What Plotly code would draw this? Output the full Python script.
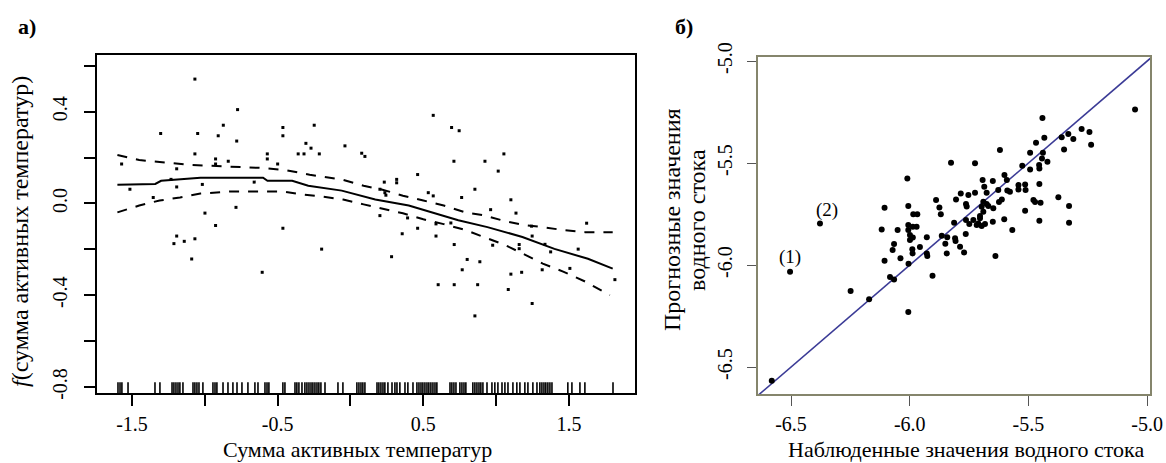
import plotly.graph_objects as go

# ---------------- Panel a) : GAM partial effect ----------------
res_x = [-1.571, -1.514, -1.354, -1.303, -1.232, -1.193, -1.193, -1.193, -1.212, -1.141,
         -1.068, -1.090, -1.068, -1.068, -1.049, -1.017, -0.999, -0.926, -0.926, -0.926,
         -0.908, -0.873, -0.839, -0.786, -0.781, -0.775, -0.661, -0.606, -0.571, -0.571,
         -0.500, -0.464, -0.464, -0.464, -0.359, -0.319, -0.306, -0.271, -0.249, -0.214,
         -0.198, -0.038, 0.077, 0.099, 0.202, 0.202, 0.232, 0.243, 0.282, 0.317,
         0.317, 0.355, 0.392, 0.461, 0.461, 0.534, 0.568, 0.568, 0.587, 0.587,
         0.602, 0.694, 0.689, 0.710, 0.712, 0.712, 0.746, 0.763, 0.767, 0.801,
         0.854, 0.854, 0.873, 0.888, 0.923, 0.962, 0.976, 1.014, 1.053, 1.083,
         1.101, 1.101, 1.136, 1.158, 1.158, 1.175, 1.243, 1.247, 1.247, 1.316,
         1.335, 1.374, 1.506, 1.563, 1.621, 1.815, 0.236]
res_y = [0.172, 0.062, 0.026, 0.305, 0.105, 0.151, 0.072, -0.142, -0.175, -0.165,
         -0.154, -0.242, 0.542, 0.216, 0.305, 0.083, -0.042, 0.194, 0.172, -0.096,
         0.295, 0.341, 0.184, -0.017, 0.272, 0.409, 0.093, -0.300, 0.216, 0.194,
         0.172, 0.331, 0.295, -0.108, 0.216, 0.216, 0.262, 0.241, 0.341, 0.216,
         -0.199, 0.251, 0.219, 0.205, 0.062, -0.053, 0.093, 0.036, -0.232, 0.105,
         0.090, -0.132, -0.063, 0.126, -0.108, 0.047, 0.384, 0.033, -0.089, -0.142,
         -0.354, 0.331, -0.085, 0.184, -0.179, -0.354, 0.317, 0.026, -0.289, -0.244,
         0.062, -0.490, -0.354, -0.254, 0.184, -0.027, -0.182, 0.141, 0.216, -0.375,
         0.016, -0.308, -0.042, -0.179, -0.197, -0.300, -0.099, -0.142, -0.436, -0.289,
         -0.178, -0.211, -0.283, -0.199, -0.086, -0.332, 0.047]

fit_x = [-1.60, -1.34, -1.30, -1.03, -0.60, -0.57, -0.40, -0.29, -0.06, 0.17,
         0.40, 0.63, 0.74, 0.94, 1.18, 1.40, 1.63, 1.80]
fit_y = [0.082, 0.085, 0.099, 0.112, 0.112, 0.099, 0.099, 0.077, 0.056, 0.017,
         -0.009, -0.052, -0.073, -0.103, -0.146, -0.198, -0.241, -0.284]

upper_x = [-1.60, -1.45, -1.10, -0.62, -0.45, -0.28, -0.05, 0.09, 0.22, 0.36,
           0.50, 0.64, 0.79, 0.92, 1.06, 1.20, 1.32, 1.46, 1.61, 1.80]
upper_y = [0.211, 0.189, 0.168, 0.155, 0.146, 0.125, 0.103, 0.077, 0.060, 0.034,
           0.013, -0.009, -0.039, -0.052, -0.077, -0.095, -0.103, -0.116, -0.125, -0.125]

lower_x = [-1.60, -1.45, -1.31, -1.17, -1.03, -0.83, -0.46, -0.33, -0.19, -0.05,
           0.09, 0.22, 0.36, 0.50, 0.64, 0.79, 0.92, 1.06, 1.20, 1.32,
           1.46, 1.61, 1.78]
lower_y = [-0.039, -0.009, 0.013, 0.026, 0.043, 0.052, 0.052, 0.039, 0.030, 0.017,
           -0.004, -0.022, -0.043, -0.069, -0.090, -0.116, -0.146, -0.181, -0.224, -0.262,
           -0.297, -0.340, -0.400]

rug_x = [-1.596, -1.582, -1.569, -1.527, -1.342, -1.308, -1.225, -1.212, -1.198, -1.184,
         -1.171, -1.150, -1.081, -1.068, -1.054, -1.040, -1.013, -0.944, -0.930, -0.917,
         -0.875, -0.841, -0.807, -0.779, -0.745, -0.704, -0.656, -0.635, -0.587, -0.573,
         -0.560, -0.464, -0.450, -0.381, -0.368, -0.354, -0.333, -0.313, -0.299, -0.285,
         -0.271, -0.258, -0.244, -0.230, -0.217, -0.203, -0.175, -0.086, -0.052, 0.044,
         0.058, 0.072, 0.085, 0.099, 0.182, 0.195, 0.209, 0.223, 0.236, 0.257,
         0.285, 0.305, 0.319, 0.339, 0.374, 0.394, 0.429, 0.456, 0.470, 0.484,
         0.497, 0.511, 0.525, 0.538, 0.552, 0.566, 0.580, 0.593, 0.683, 0.696,
         0.710, 0.724, 0.751, 0.765, 0.779, 0.792, 0.840, 0.854, 0.868, 0.882,
         0.895, 0.909, 0.937, 0.971, 0.991, 1.012, 1.040, 1.060, 1.081, 1.115,
         1.142, 1.163, 1.197, 1.218, 1.252, 1.280, 1.300, 1.314, 1.328, 1.341,
         1.355, 1.369, 1.383, 1.492, 1.520, 1.575, 1.609, 1.802]

a_xticks = [-1.5, -1.0, -0.5, 0.0, 0.5, 1.0, 1.5]
a_xticklabels = ["-1.5", "", "-0.5", "", "0.5", "", "1.5"]
a_yticks = [-0.8, -0.6, -0.4, -0.2, 0.0, 0.2, 0.4, 0.6]
a_yticklabels = ["-0.8", "", "-0.4", "", "0.0", "", "0.4", ""]
a_xrange = [-1.74, 1.953]
a_yrange = [-0.826, 0.647]

# ---------------- Panel б) : observed vs predicted ----------------
obs_x = [-5.051, -5.441, -5.276, -5.243, -5.332, -5.360, -5.311, -5.433, -5.236, -5.468,
         -5.350, -5.620, -5.493, -5.439, -5.443, -5.420, -5.826, -5.725, -5.526, -5.455,
         -5.493, -5.454, -5.601, -6.010, -5.693, -5.650, -5.591, -5.454, -5.542, -5.514,
         -5.686, -5.589, -5.627, -5.542, -5.512, -5.676, -5.785, -5.725, -5.753, -5.805,
         -5.889, -5.374, -5.612, -5.624, -5.479, -5.472, -5.449, -5.763, -5.760, -5.690,
         -5.676, -5.697, -5.669, -5.648, -5.329, -6.006, -6.106, -5.875, -5.985, -5.968,
         -5.869, -5.690, -5.704, -5.514, -5.602, -5.454, -5.329, -5.813, -5.763, -5.732,
         -5.749, -5.704, -5.711, -5.697, -5.683, -5.650, -6.006, -5.987, -5.971, -6.118,
         -6.051, -5.568, -6.378, -5.764, -5.999, -5.987, -5.928, -5.842, -5.809, -6.504,
         -6.249, -6.171, -6.006, -6.581, -6.006, -5.999, -6.066, -6.072, -6.106, -6.039,
         -5.989, -5.988, -5.957, -5.928, -5.926, -6.083, -6.066, -6.005, -5.904, -5.865,
         -5.807, -5.850, -5.844, -5.788, -5.771, -5.639, -5.718, -5.578]
pred_y = [-5.237, -5.279, -5.333, -5.348, -5.358, -5.373, -5.382, -5.376, -5.410, -5.400,
          -5.433, -5.436, -5.449, -5.449, -5.477, -5.493, -5.498, -5.501, -5.513, -5.510,
          -5.531, -5.526, -5.559, -5.575, -5.583, -5.588, -5.583, -5.603, -5.608, -5.605,
          -5.616, -5.635, -5.632, -5.630, -5.632, -5.646, -5.649, -5.646, -5.657, -5.678,
          -5.681, -5.667, -5.679, -5.691, -5.681, -5.691, -5.695, -5.701, -5.713, -5.690,
          -5.701, -5.714, -5.711, -5.722, -5.711, -5.711, -5.719, -5.718, -5.751, -5.751,
          -5.751, -5.739, -5.760, -5.734, -5.775, -5.783, -5.792, -5.793, -5.779, -5.779,
          -5.799, -5.771, -5.796, -5.809, -5.799, -5.788, -5.804, -5.812, -5.812, -5.825,
          -5.828, -5.828, -5.796, -5.848, -5.853, -5.865, -5.864, -5.864, -5.869, -6.033,
          -6.127, -6.167, -6.230, -6.567, -5.828, -5.877, -5.897, -5.926, -5.979, -5.966,
          -5.923, -5.943, -5.912, -5.943, -5.956, -6.059, -6.071, -5.993, -6.052, -5.856,
          -5.882, -5.895, -5.943, -5.910, -5.938, -5.956, -5.804, -5.641]

identity_line = [-6.64, -4.98]
outlier_labels = ["(1)", "(2)"]
outlier_label_x = [-6.503, -6.350]
outlier_label_y = [-5.959, -5.730]

b_ticks = [-6.5, -6.0, -5.5, -5.0]
b_ticklabels = ["-6.5", "-6.0", "-5.5", "-5.0"]
b_xrange = [-6.639, -4.988]
b_yrange = [-6.632, -4.980]

# ---------------- Figure ----------------
W, H = 1166, 463
FONT = "Liberation Serif, Times New Roman, serif"

fig = go.Figure()

fig.add_trace(go.Scatter(x=res_x, y=res_y, mode="markers",
                         marker=dict(size=3, color="black", symbol="square"),
                         xaxis="x", yaxis="y", showlegend=False))
fig.add_trace(go.Scatter(x=upper_x, y=upper_y, mode="lines",
                         line=dict(color="black", width=2, dash="10px,9px"),
                         xaxis="x", yaxis="y", showlegend=False))
fig.add_trace(go.Scatter(x=lower_x, y=lower_y, mode="lines",
                         line=dict(color="black", width=2, dash="10px,9px"),
                         xaxis="x", yaxis="y", showlegend=False))
fig.add_trace(go.Scatter(x=fit_x, y=fit_y, mode="lines",
                         line=dict(color="black", width=2),
                         xaxis="x", yaxis="y", showlegend=False))
# rug along the bottom of panel a
rug_len_px = 9
rug_y = a_yrange[0] + (rug_len_px / 2) / 338 * (a_yrange[1] - a_yrange[0])
fig.add_trace(go.Scatter(x=rug_x, y=[rug_y] * len(rug_x), mode="markers",
                         marker=dict(symbol="line-ns", size=rug_len_px,
                                     line=dict(width=1.6, color="black")),
                         xaxis="x", yaxis="y", showlegend=False))

fig.add_trace(go.Scatter(x=identity_line, y=identity_line, mode="lines",
                         line=dict(color="#3b3b96", width=1.6),
                         xaxis="x2", yaxis="y2", showlegend=False))
fig.add_trace(go.Scatter(x=obs_x, y=pred_y, mode="markers",
                         marker=dict(size=6, color="black"),
                         xaxis="x2", yaxis="y2", showlegend=False))

common = dict(showgrid=False, zeroline=False, showline=True, mirror=True,
              automargin=False, ticks="outside",
              tickfont=dict(family=FONT, size=20, color="black"))

fig.update_layout(
    template="none",
    width=W, height=H,
    margin=dict(l=0, r=0, t=0, b=0, pad=0),
    paper_bgcolor="white", plot_bgcolor="white",
    font=dict(family=FONT, color="black"),
    xaxis=dict(domain=[97 / W, 635 / W], range=a_xrange, anchor="y",
               tickvals=a_xticks, ticktext=a_xticklabels,
               linecolor="black", linewidth=2, ticklen=11, tickwidth=1.6,
               tickcolor="black", ticklabelstandoff=1, **common),
    yaxis=dict(domain=[(H - 393) / H, (H - 55) / H], range=a_yrange, anchor="x",
               tickvals=a_yticks, ticktext=a_yticklabels, tickangle=-90,
               linecolor="black", linewidth=2, ticklen=11, tickwidth=1.6,
               tickcolor="black", ticklabelstandoff=9, **common),
    xaxis2=dict(domain=[758 / W, 1150 / W], range=b_xrange, anchor="y2",
                tickvals=b_ticks, ticktext=b_ticklabels,
                linecolor="#85856c", linewidth=1.5, ticklen=10, tickwidth=1.3,
                tickcolor="#555555", ticklabelstandoff=1, **common),
    yaxis2=dict(domain=[(H - 394) / H, (H - 57) / H], range=b_yrange, anchor="x2",
                tickvals=b_ticks, ticktext=b_ticklabels, tickangle=-90,
                linecolor="#85856c", linewidth=1.5, ticklen=9, tickwidth=1.3,
                tickcolor="#555555", ticklabelstandoff=7, **common),
)


def label(text, px, py, size, angle=0):
    return dict(text=text, x=px / W, y=1 - py / H, xref="paper", yref="paper",
                xanchor="center", yanchor="middle", textangle=angle,
                showarrow=False, font=dict(family=FONT, size=size, color="black"))


ann = [
    label("<b>a)</b>", 27, 26, 22),
    label("<b>б)</b>", 684, 26, 22),
    label("<i>f</i>(сумма активных температур)", 20, 232, 24, -90),
    label("Сумма активных температур", 357, 449.5, 22),
    label("Прогнозные значения", 672, 220, 24, -90),
    label("водного стока", 697, 220, 24, -90),
    label("Наблюденные значения водного стока", 966, 449.5, 22),
]
for t, lx, ly in zip(outlier_labels, outlier_label_x, outlier_label_y):
    ann.append(dict(text=t, x=lx, y=ly, xref="x2", yref="y2", showarrow=False,
                    xanchor="center", yanchor="middle",
                    font=dict(family=FONT, size=19, color="black")))
fig.update_layout(annotations=ann)

# remove the default page margin so the figure sits at the window's top-left corner
fig.write_html("out.html",
               config={"displayModeBar": False},
               post_script="document.body.style.margin='0';"
                           "document.body.style.overflow='hidden';")
